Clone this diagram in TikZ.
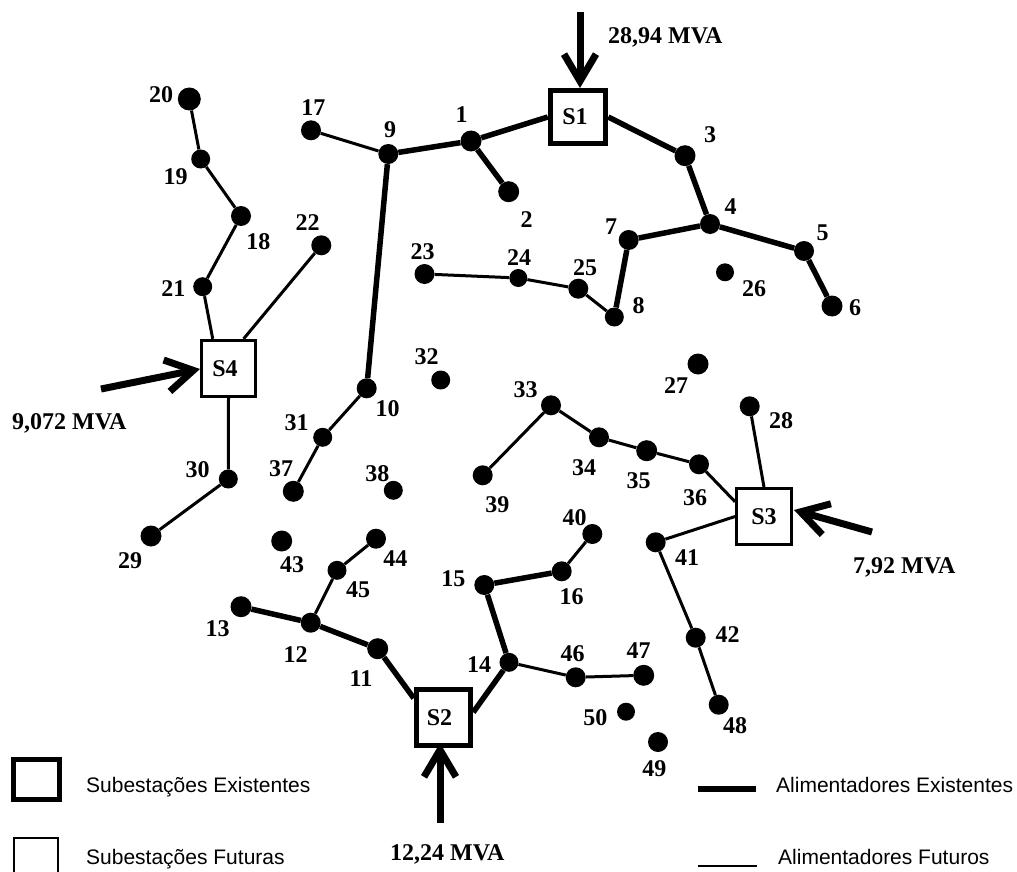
\documentclass[tikz,border=0pt]{standalone}
\usepackage{fontspec}
\setmainfont{Liberation Serif}
\newfontfamily\legfont{Liberation Sans}
\usetikzlibrary{arrows.meta}
\tikzset{
 bus/.style={circle,fill=black,inner sep=0pt,minimum size=#1},
 lab/.style={font=\fontsize{24}{26}\selectfont\bfseries,inner sep=0pt},
 mva/.style={font=\fontsize{24}{26}\selectfont\bfseries,inner sep=0pt,anchor=base west},
 leg/.style={font=\legfont\fontsize{21}{23}\selectfont,inner sep=0pt,anchor=base west},
 exist/.style={line width=5.5pt},
 future/.style={line width=3pt},
 subx/.style={draw,fill=white,line width=5.5pt,inner sep=0pt,font=\fontsize{24}{26}\selectfont\bfseries},
 subf/.style={draw,fill=white,line width=2.8pt,inner sep=0pt,font=\fontsize{24}{26}\selectfont\bfseries},
 feed/.style={line width=7pt,-{Straight Barb[length=27pt,width=32pt,line width=7pt]}},
}
\begin{document}
\begin{tikzpicture}[x=1pt,y=-1pt]
\useasboundingbox (0,0) rectangle (1017,872);
\foreach \n/\x/\y/\s in {1/471/141/21,2/508.7/191.7/21,3/685/155.7/21,4/710/224/20,5/804/251/20,6/832/306/21,7/628.7/240/20,8/614.3/317/19,9/388.3/154/20,10/366.7/388.3/20,11/377.7/648.7/21,12/310.7/622.7/20,13/241/606.7/21,14/509/662.3/19,15/484.3/585/20,16/561.7/571.3/20,17/311/130.3/20,18/241/216/20,19/200.7/159/19,20/189.3/99/23,21/202.7/286.7/19,22/321.3/245.3/20,23/424.5/274/20,24/518.3/278/18,25/578.3/288.7/20,26/725/272.3/18,27/698/364/21,28/749.7/406.3/20,29/151/536/21,30/228.3/479/19,31/322.7/437.3/19,32/440.7/380/19,33/551/405.3/20,34/599/437.3/20,35/646.7/450.7/21,36/699/464.3/20,37/293.3/491.3/21,38/393.3/490.3/19,39/482.7/475.3/20,40/592.3/534/20,41/655.7/542.3/20,42/695.7/637.7/20,43/281.7/541/21,44/376/538.7/20,45/337/570.3/19,46/575.7/677.3/20,47/643.7/675.3/21,48/718.7/704.7/20,49/658/742/20,50/626/711.7/18}
 {\node[bus=\s pt] (n\n) at (\x,\y) {};}
\node[subx,minimum width=55pt,minimum height=53pt] (S1) at (578,117) {S1\hspace*{6pt}};
\node[subx,minimum width=54pt,minimum height=56pt] (S2) at (443.5,717.5) {S2\hspace*{8pt}};
\node[subf,minimum width=55pt,minimum height=56pt] (S3) at (764,516.5) {S3};
\node[subf,minimum width=54.5pt,minimum height=56.5pt] (S4) at (228.5,368.5) {S4\hspace*{7pt}};
% existing feeders
\foreach \a/\b in {S1.west/n1,n1/n9,n1/n2,S1.east/n3,n3/n4,n4/n5,n5/n6,n4/n7,n7/n8,n9/n10,S2.147/n11,n11/n12,n12/n13,S2.10/n14,n14/n15,n15/n16}
 \draw[exist] (\a) -- (\b);
% future feeders
\foreach \a/\b in {n9/n17,n20/n19,n19/n18,n18/n21,n21/S4.118,n22/S4.63,S4.south/n30,n30/n29,n23/n24,n24/n25,n25/n8,n10/n31,n31/n37,n39/n33,n33/n34,n34/n35,n35/n36,n36/S3.153,n28/S3.north,S3.west/n41,n41/n42,n42/n48,n16/n40,n14/n46,n46/n47,n12/n45,n45/n44}
 \draw[future] (\a) -- (\b);
\foreach \t/\x/\y in {1/461.7/115,2/526.7/219.3,3/710/135,4/730.7/206.7,5/822.7/232.7,6/855/307.3,7/611/226.7,8/638.7/306,9/390/130,10/387.7/408.3,11/361/678.3,12/295.7/654.3,13/217.7/628.3,14/479/665,15/453.3/579,16/571.7/596.7,17/313.3/107.3,18/258.3/242,19/175.7/176.7,20/161/95,21/173.3/288.3,22/307.7/222.7,23/422.7/251.7,24/519/258,25/585/267.3,26/754/288.3,27/676/386,28/781/421,29/130/561,30/197.7/470,31/296.7/422.3,32/426.7/356.7,33/525.7/389.3,34/584/467.3,35/638.7/481,36/695/498,37/281/468.3,38/377.3/473.3,39/497.3/505,40/574.7/517.3,41/687/557.7,42/727.7/635,43/292/565,44/395.3/559,45/358/589.3,46/572.7/653.3,47/638.7/651,48/735/725.3,49/654.3/769,50/595.3/717.7}
 {\node[lab] (t\t) at (\x,\y) {\t};}
\coordinate (a1) at (580,12); \coordinate (a1e) at (580,88);
\draw[feed] (a1) -- (a1e);
\coordinate (a2) at (440,823); \coordinate (a2e) at (440,743);
\draw[feed] (a2) -- (a2e);
\coordinate (a3) at (872,532); \coordinate (a3e) at (794,510);
\draw[feed] (a3) -- (a3e);
\coordinate (a4) at (101,389); \coordinate (a4e) at (200,369);
\draw[feed] (a4) -- (a4e);
\node[mva] (m1) at (608,43.3) {28,94 MVA};
\node[mva] (m2) at (390,860) {12,24 MVA};
\node[mva] (m3) at (853,573) {7,92 MVA};
\node[mva] (m4) at (12,429) {9,072 MVA};
\node[subx,minimum width=46pt,minimum height=40pt] (k1) at (36.5,779.5) {};
\node[subf,minimum width=44pt,minimum height=44pt,line width=2.2pt] (k2) at (36,860) {};
\node[leg] (l1) at (86,792) {Subestações Existentes};
\node[leg] (l2) at (86,864) {Subestações Futuras};
\node[leg] (l3) at (776,792) {Alimentadores Existentes};
\node[leg] (l4) at (778,864) {Alimentadores Futuros};
\coordinate (c1) at (698,789); \coordinate (c2) at (756,789);
\coordinate (c3) at (698,866); \coordinate (c4) at (757,866);
\draw[exist,line width=6pt] (c1) -- (c2);
\draw[future,line width=2pt] (c3) -- (c4);
\end{tikzpicture}
\end{document}
